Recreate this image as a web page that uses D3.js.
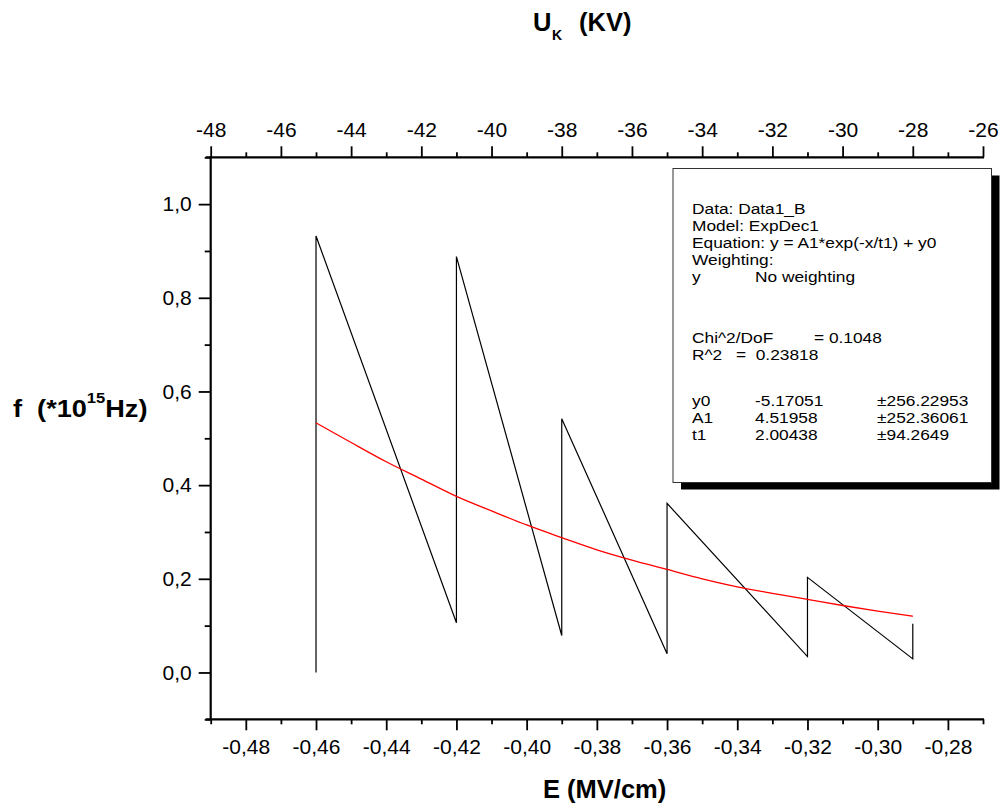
<!DOCTYPE html>
<html><head><meta charset="utf-8">
<script src="https://cdn.jsdelivr.net/npm/d3@7"></script>
<style>
html,body{margin:0;padding:0;background:#fff;}
svg{display:block;font-family:"Liberation Sans",Arial,sans-serif;}
text{white-space:pre;}
</style></head>
<body>
<svg id="c" width="1002" height="812"></svg>
<script>
// ---- data ----
const fieldE = [-0.46, -0.46, -0.42, -0.42, -0.39, -0.39, -0.36, -0.36, -0.32, -0.32, -0.29, -0.29];
const freq   = [0.000, 0.932, 0.106, 0.888, 0.079, 0.542, 0.040, 0.361, 0.034, 0.203, 0.029, 0.104];
const fitE = [-0.46,-0.45,-0.44,-0.43,-0.42,-0.41,-0.40,-0.39,-0.38,-0.37,-0.36,-0.35,-0.34,-0.33,-0.32,-0.31,-0.30,-0.29];
const fitF = [0.533,0.491,0.450,0.413,0.376,0.345,0.315,0.288,0.262,0.240,0.220,0.200,0.183,0.169,0.156,0.143,0.131,0.120];
const bottomTicks = [-0.48,-0.46,-0.44,-0.42,-0.40,-0.38,-0.36,-0.34,-0.32,-0.30,-0.28];
const bottomLabels = ["-0,48","-0,46","-0,44","-0,42","-0,40","-0,38","-0,36","-0,34","-0,32","-0,30","-0,28"];
const bottomMinor = [-0.49,-0.47,-0.45,-0.43,-0.41,-0.39,-0.37,-0.35,-0.33,-0.31,-0.29,-0.27];
const topTicks = [-48,-46,-44,-42,-40,-38,-36,-34,-32,-30,-28,-26];
const topLabels = ["-48","-46","-44","-42","-40","-38","-36","-34","-32","-30","-28","-26"];
const topMinor = [-47,-45,-43,-41,-39,-37,-35,-33,-31,-29,-27];
const leftTicks = [0.0,0.2,0.4,0.6,0.8,1.0];
const leftLabels = ["0,0","0,2","0,4","0,6","0,8","1,0"];
const leftMinor = [-0.1,0.1,0.3,0.5,0.7,0.9,1.1];
const statsLines = [
  ["Data: Data1_B"],
  ["Model: ExpDec1"],
  ["Equation: y = A1*exp(-x/t1) + y0"],
  ["Weighting:"],
  ["y","No weighting"],
  ["Chi^2/DoF","= 0.1048"],
  ["R^2","=  0.23818"],
  ["y0","-5.17051","±256.22953"],
  ["A1","4.51958","±252.36061"],
  ["t1","2.00438","±94.2649"]
];

const svg = d3.select("#c");
const L = 210.7, R = 983, T = 157.3, B = 719.3;
const x = d3.scaleLinear().domain([-0.49,-0.27]).range([L,R]);
const xTop = d3.scaleLinear().domain([-48,-26]).range([L,R]);
const y = d3.scaleLinear().domain([-0.1,1.1]).range([B,T]);

const tickFont = 21;
function styleAxis(g){
  g.select(".domain").remove();
  g.selectAll(".tick line").attr("stroke","#000").attr("stroke-width",1.8);
  g.selectAll(".tick text").attr("font-family","Liberation Sans, Arial, sans-serif").attr("font-size",tickFont).attr("fill","#000");
}
// bottom axis
svg.append("g").attr("transform",`translate(0,${B})`)
  .call(d3.axisBottom(x).tickValues(bottomTicks).tickSize(11).tickPadding(9).tickFormat((d,i)=>bottomLabels[i]))
  .call(styleAxis);
svg.append("g").attr("transform",`translate(0,${B})`)
  .call(d3.axisBottom(x).tickValues(bottomMinor).tickSize(5).tickFormat(""))
  .call(styleAxis);
// top axis
svg.append("g").attr("transform",`translate(0,${T})`)
  .call(d3.axisTop(xTop).tickValues(topTicks).tickSize(11).tickPadding(9).tickFormat((d,i)=>topLabels[i]))
  .call(styleAxis);
svg.append("g").attr("transform",`translate(0,${T})`)
  .call(d3.axisTop(xTop).tickValues(topMinor).tickSize(5).tickFormat(""))
  .call(styleAxis);
// left axis
svg.append("g").attr("transform",`translate(${L},0)`)
  .call(d3.axisLeft(y).tickValues(leftTicks).tickSize(12).tickPadding(7).tickFormat((d,i)=>leftLabels[i]))
  .call(styleAxis);
svg.append("g").attr("transform",`translate(${L},0)`)
  .call(d3.axisLeft(y).tickValues(leftMinor).tickSize(6).tickFormat(""))
  .call(styleAxis);
// spines
svg.append("line").attr("x1",L-5).attr("x2",R+1).attr("y1",B).attr("y2",B).attr("stroke","#000").attr("stroke-width",2.2);
svg.append("line").attr("x1",L-5).attr("x2",R+1).attr("y1",T).attr("y2",T).attr("stroke","#000").attr("stroke-width",2.2);
svg.append("line").attr("x1",L).attr("x2",L).attr("y1",T-1).attr("y2",B+1).attr("stroke","#000").attr("stroke-width",2.2);

// data line
const pts = fieldE.map((e,i)=>[e,freq[i]]);
svg.append("path").datum(pts)
  .attr("d",d3.line().x(d=>x(d[0])).y(d=>y(d[1])))
  .attr("fill","none").attr("stroke","#000").attr("stroke-width",1.2);
// fit curve
const fpts = fitE.map((e,i)=>[e,fitF[i]]);
svg.append("path").datum(fpts)
  .attr("d",d3.line().curve(d3.curveMonotoneX).x(d=>x(d[0])).y(d=>y(d[1])))
  .attr("fill","none").attr("stroke","#ff0000").attr("stroke-width",1.3);

// stats box
const bx = 673, by = 168.5, bw = 318.5, bh = 314;
svg.append("rect").attr("x",bx+8).attr("y",by+7).attr("width",bw).attr("height",bh).attr("fill","#000");
svg.append("rect").attr("x",bx).attr("y",by).attr("width",bw).attr("height",bh).attr("fill","#fff").attr("stroke","#333").attr("stroke-width",1);
const lineY = [214, 231, 248, 265, 282, 343, 360, 406, 423, 440];
const colX = {
  0:[692],1:[692],2:[692],3:[692],4:[692,755],5:[692,814],6:[692,736],7:[692,755,877],8:[692,755,877],9:[692,755,877]
};
statsLines.forEach((row,i)=>{
  row.forEach((t,j)=>{
    svg.append("text")
      .attr("transform",`translate(${colX[i][j]},${lineY[i]}) scale(1.14,1)`)
      .attr("font-size",15.2).attr("fill","#000").text(t);
  });
});

// titles
const tt = svg.append("g").attr("font-weight","bold").attr("fill","#000");
tt.append("text").attr("x",533).attr("y",30.5).attr("font-size",25.5).text("U");
tt.append("text").attr("x",552).attr("y",40).attr("font-size",14).text("K");
tt.append("text").attr("x",579).attr("y",30.5).attr("font-size",25.5).text("(KV)");
tt.append("text").attr("x",543).attr("y",798).attr("font-size",25.5).text("E (MV/cm)");
const yl = tt.append("text").attr("transform","translate(13,417) scale(1.18,1)").attr("font-size",23);
yl.append("tspan").text("f  (*10");
yl.append("tspan").attr("font-size",14).attr("dy",-14).text("15");
yl.append("tspan").attr("dy",14).text("Hz)");
</script>
</body></html>
